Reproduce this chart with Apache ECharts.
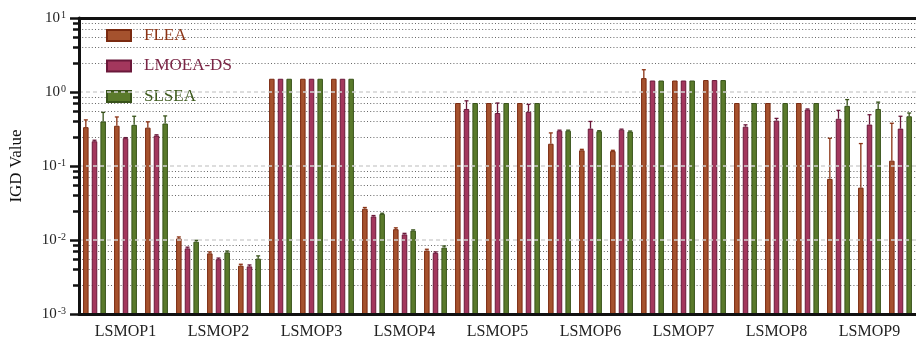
<!DOCTYPE html>
<html><head><meta charset="utf-8">
<script src="https://cdn.jsdelivr.net/npm/echarts@6/dist/echarts.min.js"></script>
<style>html,body{margin:0;padding:0;background:#fff}#c{width:916px;height:344px}</style>
</head><body><div id="c"></div>
<script>
// ---- data ----
const problems = ['LSMOP1','LSMOP2','LSMOP3','LSMOP4','LSMOP5','LSMOP6','LSMOP7','LSMOP8','LSMOP9'];
const instancesPerProblem = 3;
const algorithms = ['FLEA','LMOEA-DS','SLSEA'];

const fleaMean = [0.335,0.35,0.33, 0.0105,0.0066,0.0045, 1.51,1.51,1.51, 0.0265,0.014,0.0072, 0.71,0.71,0.71, 0.20,0.163,0.159, 1.54,1.43,1.45, 0.71,0.71,0.71, 0.067,0.051,0.118];
const fleaStd  = [0.085,0.11,0.065, 0.0005,0.0003,0.0002, 0,0,0, 0.001,0.0006,0.0003, 0,0,0, 0.08,0.005,0.004, 0.46,0,0, 0,0,0, 0.17,0.15,0.26];

const lmoeaMean = [0.216,0.238,0.258, 0.0077,0.0055,0.0044, 1.51,1.51,1.51, 0.0208,0.0119,0.0067, 0.59,0.52,0.54, 0.30,0.32,0.31, 1.43,1.43,1.45, 0.34,0.41,0.58, 0.435,0.363,0.32];
const lmoeaStd  = [0.007,0.004,0.006, 0.0003,0.0002,0.0002, 0,0,0, 0.0006,0.0004,0.0002, 0.17,0.19,0.14, 0.005,0.08,0.005, 0,0,0, 0.02,0.03,0.01, 0.13,0.13,0.15];

const slseaMean = [0.40,0.36,0.375, 0.0095,0.0068,0.0056, 1.51,1.51,1.51, 0.0225,0.0134,0.0079, 0.71,0.71,0.71, 0.30,0.295,0.292, 1.43,1.43,1.45, 0.71,0.71,0.71, 0.65,0.59,0.47];
const slseaStd  = [0.13,0.11,0.10, 0.0004,0.0003,0.0005, 0,0,0, 0.0005,0.0003,0.0004, 0,0,0, 0.005,0.005,0.005, 0,0,0, 0,0,0, 0.14,0.14,0.05];

const yMin = 0.001, yMax = 10;
const minorMantissas = [2.5, 4, 5.5, 7, 8.5];
const minorDecades = [-3, -2, -1, 0];

// ---- build ----
const categories = [];
problems.forEach(p => { for (let i = 1; i <= instancesPerProblem; i++) categories.push(p + '#' + i); });

const means = [fleaMean, lmoeaMean, slseaMean];
const stds = [fleaStd, lmoeaStd, slseaStd];
const fills = ['#a5522e', '#a3375d', '#5a7a2b'];
const borders = ['#7a2a10', '#6a183a', '#38531a'];
const textColors = ['#8a3314', '#7a2545', '#3d5a1c'];
const errColors = ['#8a3314', '#6a183a', '#38531a'];

const BAR_W = 5.5, BAR_GAP = 0.576;
const step = BAR_W * (1 + BAR_GAP);
const serif = 'Liberation Serif';

const minorVals = [];
minorDecades.forEach(e => minorMantissas.forEach(m => minorVals.push([0, m * Math.pow(10, e)])));

const series = [];
series.push({
  type: 'custom', silent: true, z: 0, clip: false,
  data: minorVals, encode: { x: 0, y: 1 },
  renderItem: function (params, api) {
    const cs = params.coordSys;
    const y = Math.round(api.coord([0, api.value(1)])[1]) + 0.5;
    return { type: 'group', children: [
      { type: 'line', shape: { x1: cs.x, y1: y, x2: cs.x + cs.width, y2: y },
        style: { stroke: '#666', lineWidth: 1, lineDash: [1, 2.2] } },
      { type: 'line', shape: { x1: cs.x - 6, y1: y, x2: cs.x, y2: y },
        style: { stroke: '#111', lineWidth: 2.5 } }
    ]};
  }
});

algorithms.forEach((name, k) => {
  series.push({
    type: 'bar', name: name, data: means[k], barWidth: BAR_W, barGap: (BAR_GAP * 100) + '%', z: 2,
    itemStyle: { color: fills[k], borderColor: borders[k], borderWidth: 1 }
  });
});
algorithms.forEach((name, k) => {
  const off = (k - 1) * step;
  const data = [];
  means[k].forEach((m, i) => { if (stds[k][i] > 0) data.push([i, m, m + stds[k][i]]); });
  series.push({
    type: 'custom', name: name, z: 3, silent: true, clip: false,
    data: data, encode: { x: 0, y: [1, 2] },
    renderItem: function (params, api) {
      const b = api.coord([api.value(0), api.value(1)]);
      const t = api.coord([api.value(0), api.value(2)]);
      const cx = b[0] + off;
      const st = { stroke: errColors[k], lineWidth: 1.3 };
      return { type: 'group', children: [
        { type: 'line', shape: { x1: cx, y1: b[1], x2: cx, y2: t[1] }, style: st },
        { type: 'line', shape: { x1: cx - 2, y1: t[1], x2: cx + 2, y2: t[1] }, style: st }
      ]};
    }
  });
});

const chart = echarts.init(document.getElementById('c'), null, { renderer: 'canvas' });
chart.setOption({
  animation: false,
  backgroundColor: '#fff',
  grid: { left: 79, top: 18, width: 844, height: 296 },
  legend: {
    orient: 'vertical', left: 106, top: 27, itemWidth: 24, itemHeight: 11, itemGap: 13.5, padding: 0,
    selectedMode: false, icon: 'rect',
    textStyle: { fontFamily: serif, fontSize: 17, padding: [0, 0, 0, 8] },
    data: algorithms.map((n, k) => ({ name: n, textStyle: { color: textColors[k] } }))
  },
  xAxis: [{
    type: 'category', data: categories, position: 'bottom', z: 10,
    axisLine: { lineStyle: { color: '#111', width: 3 } },
    axisTick: { alignWithLabel: true, interval: 0, length: 6, lineStyle: { color: '#111', width: 3 } },
    axisLabel: {
      interval: function (i) { return i % instancesPerProblem === 1; },
      formatter: function (v) { return v.split('#')[0]; },
      fontFamily: serif, fontSize: 16, color: '#222', margin: 10
    }
  }, {
    type: 'category', data: categories, position: 'top', z: 10,
    axisLine: { lineStyle: { color: '#111', width: 3 } },
    axisTick: { show: false }, axisLabel: { show: false }
  }],
  yAxis: {
    type: 'log', logBase: 10, min: yMin, max: yMax, startValue: yMin, z: 10,
    name: 'IGD Value', nameLocation: 'middle', nameGap: 54,
    nameTextStyle: { fontFamily: serif, fontSize: 17, color: '#111' },
    axisLine: { show: true, lineStyle: { color: '#111', width: 3 } },
    axisTick: { show: true, length: 9, lineStyle: { color: '#111', width: 2.5 } },
    axisLabel: {
      margin: 13,
      formatter: function (v) { return '{b|10}{s|' + Math.round(Math.log10(v)) + '}'; },
      rich: {
        b: { fontFamily: serif, fontSize: 15, color: '#222' },
        s: { fontFamily: serif, fontSize: 10, color: '#222', verticalAlign: 'top', padding: [0, 0, 6, 1] }
      }
    },
    splitLine: { show: true, lineStyle: { color: '#d2d2d2', width: 1.5, type: [4, 3] } }
  },
  series: series
});
</script>
</body></html>
